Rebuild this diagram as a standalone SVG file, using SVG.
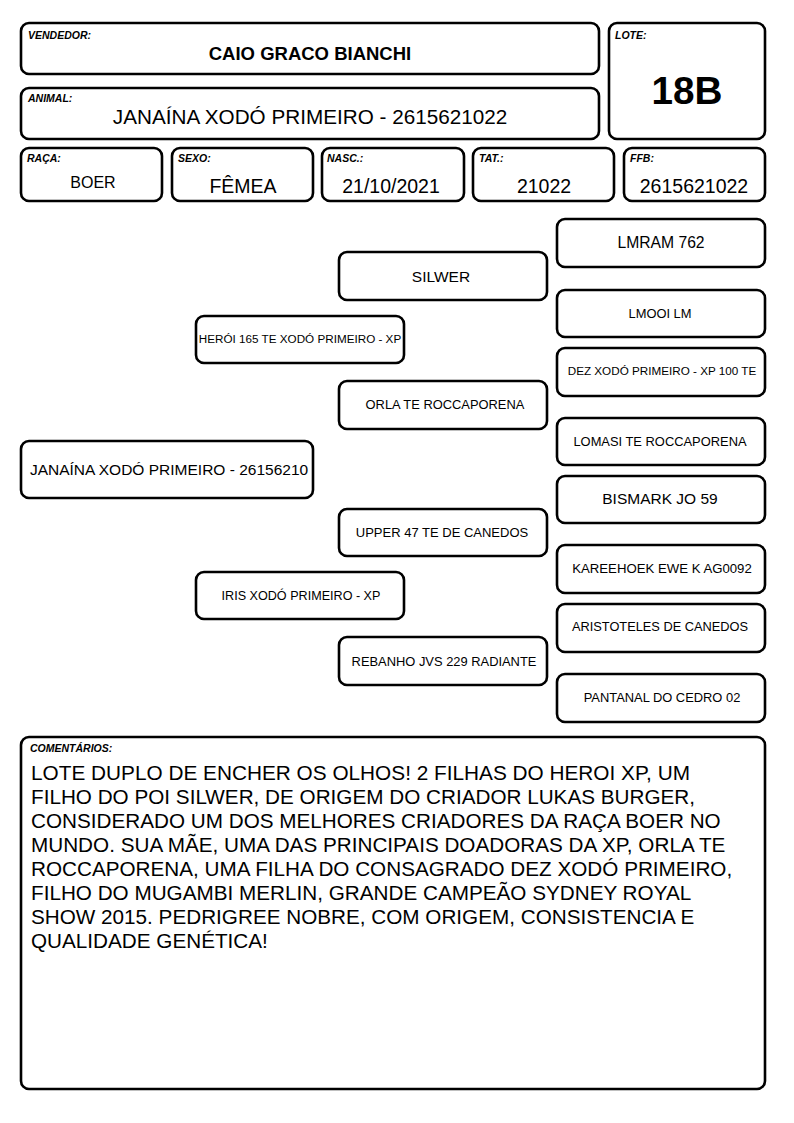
<svg xmlns="http://www.w3.org/2000/svg" width="794" height="1123" viewBox="0 0 794 1123">
<style>
.b{fill:#fff;stroke:#000;stroke-width:2.6}
text{font-family:"Liberation Sans",Arial,sans-serif;fill:#000}
.lbl{font-size:10.5px;font-weight:bold;font-style:italic}
.c{text-anchor:middle}
.v{font-size:19.5px}
.p13{font-size:12.9px}
.p15{font-size:15.5px}
.cm{font-size:20.7px}
</style>
<rect width="794" height="1123" fill="#fff"/>
<g id="vendedor">
<rect class="b" x="21" y="23" width="578" height="51" rx="8"/>
<text class="lbl" x="28" y="39">VENDEDOR:</text>
<text class="c" x="310" y="60" font-size="18.5" font-weight="bold">CAIO GRACO BIANCHI</text>
</g>
<g id="animal">
<rect class="b" x="21" y="88" width="578" height="51" rx="8"/>
<text class="lbl" x="28" y="102">ANIMAL:</text>
<text class="c" x="310" y="124" font-size="20.7">JANAÍNA XODÓ PRIMEIRO - 2615621022</text>
</g>
<g id="lote">
<rect class="b" x="609" y="23" width="156" height="116" rx="8"/>
<text class="lbl" x="615" y="39">LOTE:</text>
<text class="c" x="687" y="104" font-size="38.7" font-weight="bold">18B</text>
</g>
<g id="raca">
<rect class="b" x="21" y="148" width="141" height="53" rx="8"/>
<text class="lbl" x="27" y="162">RAÇA:</text>
<text class="c" x="93" y="188" font-size="16">BOER</text>
</g>
<g id="sexo">
<rect class="b" x="172" y="148" width="141" height="53" rx="8"/>
<text class="lbl" x="178" y="162">SEXO:</text>
<text class="c v" x="243" y="193">FÊMEA</text>
</g>
<g id="nasc">
<rect class="b" x="322" y="148" width="142" height="53" rx="8"/>
<text class="lbl" x="327" y="162">NASC.:</text>
<text class="c v" x="391" y="193">21/10/2021</text>
</g>
<g id="tat">
<rect class="b" x="473" y="148" width="141" height="53" rx="8"/>
<text class="lbl" x="479" y="162">TAT.:</text>
<text class="c v" x="544" y="193">21022</text>
</g>
<g id="ffb">
<rect class="b" x="624" y="148" width="141" height="53" rx="8"/>
<text class="lbl" x="630" y="162">FFB:</text>
<text class="c v" x="694" y="193">2615621022</text>
</g>
<g id="connectors"></g>
<g id="p-janaina">
<rect class="b" x="21" y="441" width="292" height="57" rx="8"/>
<text class="c p15" x="169" y="475">JANAÍNA XODÓ PRIMEIRO - 26156210</text>
</g>
<g id="p-heroi">
<rect class="b" x="196" y="316" width="208" height="47" rx="8"/>
<text class="c" x="300" y="343" font-size="11.7">HERÓI 165 TE XODÓ PRIMEIRO - XP</text>
</g>
<g id="p-iris">
<rect class="b" x="196" y="572" width="208" height="47" rx="8"/>
<text class="c" x="301" y="600" font-size="12.6">IRIS XODÓ PRIMEIRO - XP</text>
</g>
<g id="p-silwer">
<rect class="b" x="339" y="252" width="208" height="48" rx="8"/>
<text class="c p15" x="441" y="282">SILWER</text>
</g>
<g id="p-orla">
<rect class="b" x="339" y="381" width="208" height="48" rx="8"/>
<text class="c p13" x="445" y="409">ORLA TE ROCCAPORENA</text>
</g>
<g id="p-upper">
<rect class="b" x="339" y="509" width="208" height="47" rx="8"/>
<text class="c" x="442" y="537" font-size="13">UPPER 47 TE DE CANEDOS</text>
</g>
<g id="p-rebanho">
<rect class="b" x="339" y="637" width="208" height="48" rx="8"/>
<text class="c p13" x="444" y="666">REBANHO JVS 229 RADIANTE</text>
</g>
<g id="p-lmram">
<rect class="b" x="557" y="219" width="208" height="48" rx="8"/>
<text class="c" x="661" y="248" font-size="15.7">LMRAM 762</text>
</g>
<g id="p-lmooi">
<rect class="b" x="557" y="290" width="208" height="47" rx="8"/>
<text class="c p13" x="660" y="318">LMOOI LM</text>
</g>
<g id="p-dez">
<rect class="b" x="557" y="348" width="208" height="48" rx="8"/>
<text class="c" x="662" y="375" font-size="11.7">DEZ XODÓ PRIMEIRO - XP 100 TE</text>
</g>
<g id="p-lomasi">
<rect class="b" x="557" y="418" width="208" height="47" rx="8"/>
<text class="c p13" x="660" y="446">LOMASI TE ROCCAPORENA</text>
</g>
<g id="p-bismark">
<rect class="b" x="557" y="476" width="208" height="47" rx="8"/>
<text class="c p15" x="660" y="504">BISMARK JO 59</text>
</g>
<g id="p-kareehoek">
<rect class="b" x="557" y="545" width="208" height="48" rx="8"/>
<text class="c" x="662" y="573" font-size="13.2">KAREEHOEK EWE K AG0092</text>
</g>
<g id="p-aristoteles">
<rect class="b" x="557" y="604" width="208" height="48" rx="8"/>
<text class="c" x="660" y="631" font-size="12.8">ARISTOTELES DE CANEDOS</text>
</g>
<g id="p-pantanal">
<rect class="b" x="557" y="674" width="208" height="48" rx="8"/>
<text class="c p13" x="662" y="702">PANTANAL DO CEDRO 02</text>
</g>
<g id="comentarios">
<rect class="b" x="21" y="737" width="744" height="352" rx="8"/>
<text class="lbl" x="30" y="752">COMENTÁRIOS:</text>
<text class="cm" x="31" y="780" textLength="659" lengthAdjust="spacingAndGlyphs">LOTE DUPLO DE ENCHER OS OLHOS! 2 FILHAS DO HEROI XP, UM</text>
<text class="cm" x="31" y="804">FILHO DO POI SILWER, DE ORIGEM DO CRIADOR LUKAS BURGER,</text>
<text class="cm" x="31" y="828">CONSIDERADO UM DOS MELHORES CRIADORES DA RAÇA BOER NO</text>
<text class="cm" x="31" y="852">MUNDO. SUA MÃE, UMA DAS PRINCIPAIS DOADORAS DA XP, ORLA TE</text>
<text class="cm" x="31" y="876">ROCCAPORENA, UMA FILHA DO CONSAGRADO DEZ XODÓ PRIMEIRO,</text>
<text class="cm" x="31" y="900">FILHO DO MUGAMBI MERLIN, GRANDE CAMPEÃO SYDNEY ROYAL</text>
<text class="cm" x="31" y="924">SHOW 2015. PEDRIGREE NOBRE, COM ORIGEM, CONSISTENCIA E</text>
<text class="cm" x="31" y="948">QUALIDADE GENÉTICA!</text>
</g>
</svg>
